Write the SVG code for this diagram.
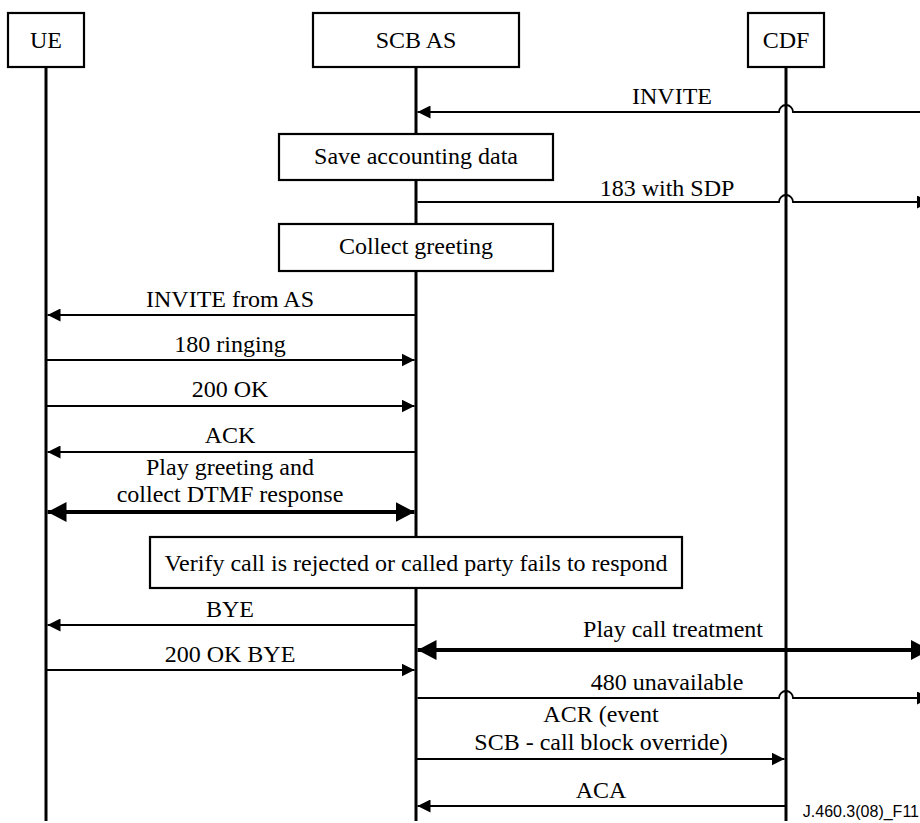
<svg xmlns="http://www.w3.org/2000/svg" width="920" height="823" viewBox="0 0 920 823">
  <style>
    .box { fill: #fff; stroke: #000; stroke-width: 2.2; }
    .life { stroke: #000; stroke-width: 3; fill: none; }
    .msg { stroke: #000; stroke-width: 1.8; fill: none; }
    .thick { stroke: #000; stroke-width: 4; fill: none; }
    text { font-family: "Liberation Serif", "Times New Roman", serif; font-size: 24px; fill: #000; text-anchor: middle; }
    .tag { font-family: "Liberation Sans", Arial, sans-serif; font-size: 16px; text-anchor: end; }
  </style>
  <defs>
    <marker id="arr" markerUnits="userSpaceOnUse" markerWidth="13" markerHeight="13" refX="13" refY="6.5" orient="auto-start-reverse">
      <path d="M0,0 L13,6.5 L0,13 z" fill="#000"/>
    </marker>
    <marker id="arrBig" markerUnits="userSpaceOnUse" markerWidth="19" markerHeight="20" refX="19" refY="10" orient="auto-start-reverse">
      <path d="M0,0 L19,10 L0,20 z" fill="#000"/>
    </marker>
  </defs>
  <rect width="920" height="823" fill="#fff"/>

  <!-- lifelines -->
  <g id="lifelines">
    <line class="life" x1="46" y1="66" x2="46" y2="821"/>
    <line class="life" x1="416" y1="66" x2="416" y2="821"/>
    <line class="life" x1="786" y1="66" x2="786" y2="821"/>
  </g>

  <!-- participants -->
  <g id="ue">
    <rect class="box" x="8" y="13" width="76" height="54"/>
    <text x="46" y="48">UE</text>
  </g>
  <g id="scb-as">
    <rect class="box" x="313" y="13" width="206" height="54"/>
    <text x="416" y="48">SCB AS</text>
  </g>
  <g id="cdf">
    <rect class="box" x="748" y="13" width="76" height="54"/>
    <text x="786" y="48">CDF</text>
  </g>

  <!-- actions on the AS lifeline -->
  <g id="save-accounting">
    <rect class="box" x="279" y="134" width="274" height="46"/>
    <text x="416" y="164">Save accounting data</text>
  </g>
  <g id="collect-greeting">
    <rect class="box" x="279" y="224" width="274" height="47"/>
    <text x="416" y="254">Collect greeting</text>
  </g>
  <g id="verify">
    <rect class="box" x="150" y="537" width="532" height="51"/>
    <text x="416" y="571">Verify call is rejected or called party fails to respond</text>
  </g>

  <!-- messages -->
  <g id="connectors">
    <path class="msg" d="M920,112 H793 A7,7 0 0 0 779,112 H417.5" marker-end="url(#arr)"/>
    <path class="msg" d="M417.5,202 H779 A7,7 0 0 1 793,202 H930" marker-end="url(#arr)"/>
    <line class="msg" x1="416" y1="315" x2="47.5" y2="315" marker-end="url(#arr)"/>
    <line class="msg" x1="46" y1="360" x2="414.5" y2="360" marker-end="url(#arr)"/>
    <line class="msg" x1="46" y1="406" x2="414.5" y2="406" marker-end="url(#arr)"/>
    <line class="msg" x1="416" y1="452" x2="47.5" y2="452" marker-end="url(#arr)"/>
    <line class="thick" x1="47.5" y1="512" x2="414.5" y2="512" marker-start="url(#arrBig)" marker-end="url(#arrBig)"/>
    <line class="msg" x1="416" y1="625" x2="47.5" y2="625" marker-end="url(#arr)"/>
    <line class="thick" x1="417.5" y1="650" x2="930" y2="650" marker-start="url(#arrBig)" marker-end="url(#arrBig)"/>
    <line class="msg" x1="46" y1="670" x2="414.5" y2="670" marker-end="url(#arr)"/>
    <path class="msg" d="M417.5,698 H779 A7,7 0 0 1 793,698 H930" marker-end="url(#arr)"/>
    <line class="msg" x1="416" y1="759" x2="784.5" y2="759" marker-end="url(#arr)"/>
    <line class="msg" x1="786" y1="806" x2="417.5" y2="806" marker-end="url(#arr)"/>
  </g>

  <!-- message labels -->
  <g id="labels">
    <text x="672" y="104">INVITE</text>
    <text x="667" y="196">183 with SDP</text>
    <text x="230" y="307">INVITE from AS</text>
    <text x="230" y="352">180 ringing</text>
    <text x="230" y="397">200 OK</text>
    <text x="230" y="443">ACK</text>
    <text x="230" y="475">Play greeting and</text>
    <text x="230" y="502">collect DTMF response</text>
    <text x="230" y="617">BYE</text>
    <text x="673" y="637">Play call treatment</text>
    <text x="230" y="662">200 OK BYE</text>
    <text x="667" y="690">480 unavailable</text>
    <text x="601" y="722">ACR (event</text>
    <text x="601" y="750">SCB - call block override)</text>
    <text x="601" y="798">ACA</text>
  </g>

  <text class="tag" x="919" y="817">J.460.3(08)_F11</text>
</svg>
